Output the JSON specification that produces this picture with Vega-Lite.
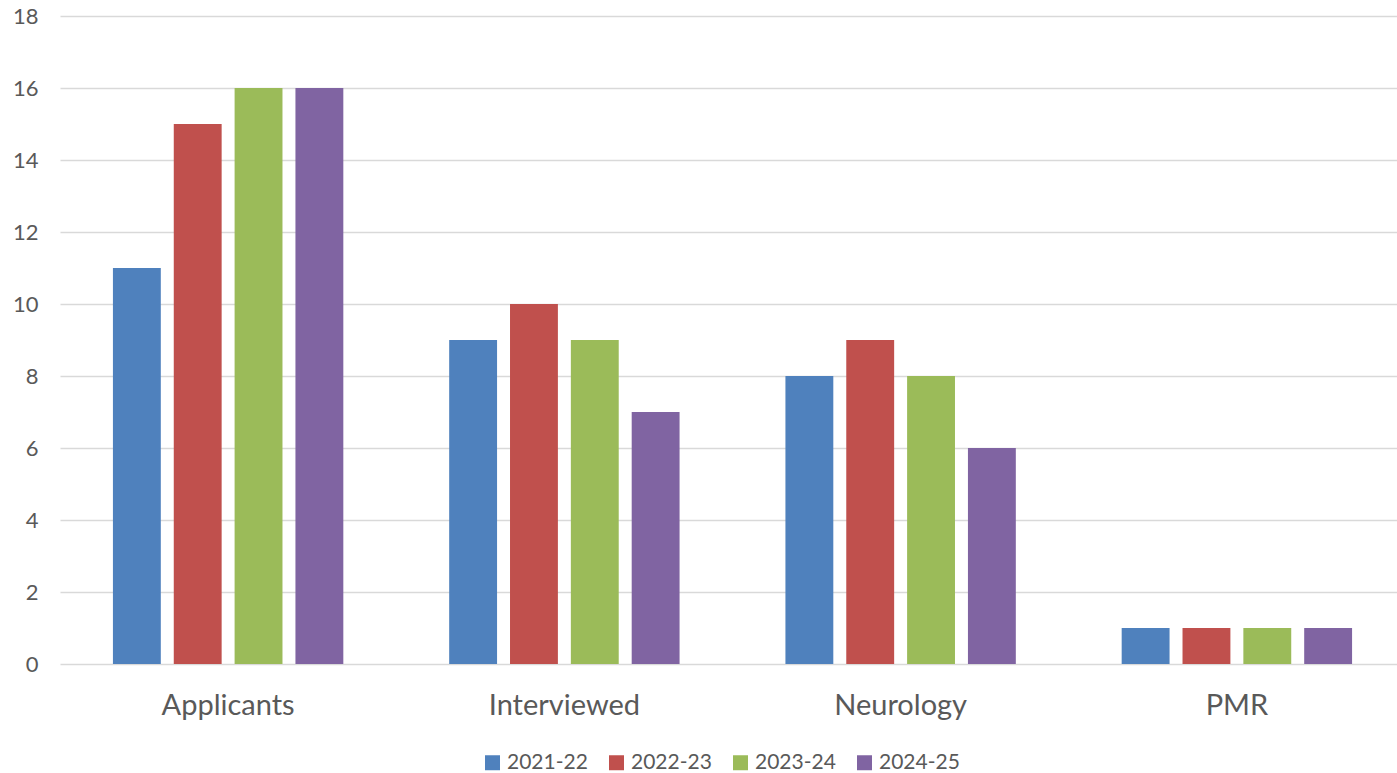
{
  "$schema": "https://vega.github.io/schema/vega-lite/v6.json",
  "autosize": {"type": "none"},
  "padding": {"left": 60, "top": 16, "right": 0, "bottom": 109},
  "width": 1337,
  "height": 648,
  "background": "white",
  "config": {
    "font": "Lato",
    "view": {"stroke": null}
  },
  "data": {
    "values": [
      {"category": "Applicants", "year": "2021-22", "value": 11},
      {"category": "Applicants", "year": "2022-23", "value": 15},
      {"category": "Applicants", "year": "2023-24", "value": 16},
      {"category": "Applicants", "year": "2024-25", "value": 16},
      {"category": "Interviewed", "year": "2021-22", "value": 9},
      {"category": "Interviewed", "year": "2022-23", "value": 10},
      {"category": "Interviewed", "year": "2023-24", "value": 9},
      {"category": "Interviewed", "year": "2024-25", "value": 7},
      {"category": "Neurology", "year": "2021-22", "value": 8},
      {"category": "Neurology", "year": "2022-23", "value": 9},
      {"category": "Neurology", "year": "2023-24", "value": 8},
      {"category": "Neurology", "year": "2024-25", "value": 6},
      {"category": "PMR", "year": "2021-22", "value": 1},
      {"category": "PMR", "year": "2022-23", "value": 1},
      {"category": "PMR", "year": "2023-24", "value": 1},
      {"category": "PMR", "year": "2024-25", "value": 1}
    ]
  },
  "mark": {"type": "bar"},
  "encoding": {
    "x": {
      "field": "category",
      "type": "nominal",
      "sort": ["Applicants", "Interviewed", "Neurology", "PMR"],
      "scale": {"paddingInner": 0, "paddingOuter": 0, "range": [0, 1345]},
      "axis": {
        "title": null,
        "labelAngle": 0,
        "labelFontSize": 29,
        "labelColor": "#595959",
        "labelPadding": 27,
        "ticks": false,
        "domain": false,
        "grid": false
      }
    },
    "xOffset": {
      "field": "year",
      "type": "nominal",
      "scale": {"paddingInner": 0.213, "paddingOuter": 0.87}
    },
    "y": {
      "field": "value",
      "type": "quantitative",
      "scale": {"domain": [0, 18], "nice": false},
      "axis": {
        "title": null,
        "values": [0, 2, 4, 6, 8, 10, 12, 14, 16, 18],
        "labelFontSize": 22,
        "labelColor": "#595959",
        "labelPadding": 22,
        "ticks": false,
        "domain": false,
        "grid": true,
        "gridColor": "#d9d9d9",
        "gridWidth": 1.5
      }
    },
    "color": {
      "field": "year",
      "type": "nominal",
      "scale": {
        "domain": ["2021-22", "2022-23", "2023-24", "2024-25"],
        "range": ["#4F81BD", "#C0504D", "#9BBB59", "#8064A2"]
      },
      "legend": {
        "title": null,
        "orient": "none",
        "direction": "horizontal",
        "legendX": 422,
        "legendY": 736,
        "symbolType": "square",
        "symbolSize": 225,
        "symbolStrokeWidth": 0,
        "symbolOpacity": 1,
        "labelFontSize": 21,
        "labelColor": "#595959",
        "labelOffset": 4,
        "columnPadding": 18
      }
    }
  }
}
